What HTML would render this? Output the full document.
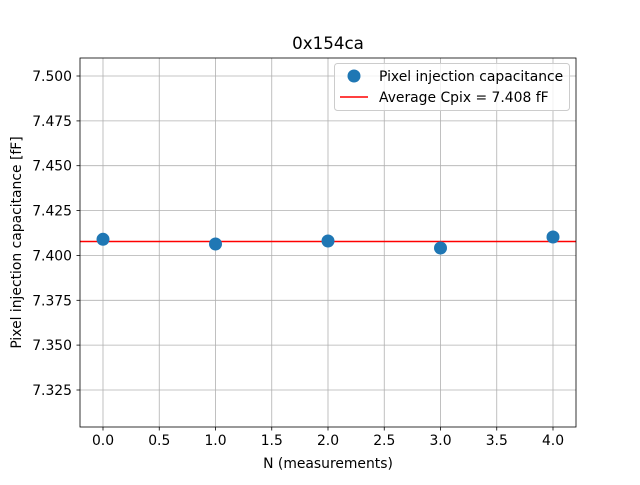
<!DOCTYPE html>
<html><head><meta charset="utf-8"><style>body{margin:0;background:#fff}</style></head><body>
<svg width="640" height="480" viewBox="0 0 640 480" xmlns="http://www.w3.org/2000/svg" font-family="DejaVu Sans, Liberation Sans, sans-serif">
<rect width="640" height="480" fill="#fff"/>
<g stroke="#b0b0b0" stroke-width="0.8">
<line x1="103" y1="58" x2="103" y2="427"/><line x1="159.25" y1="58" x2="159.25" y2="427"/>
<line x1="215.5" y1="58" x2="215.5" y2="427"/><line x1="271.75" y1="58" x2="271.75" y2="427"/>
<line x1="328" y1="58" x2="328" y2="427"/><line x1="384.25" y1="58" x2="384.25" y2="427"/>
<line x1="440.5" y1="58" x2="440.5" y2="427"/><line x1="496.75" y1="58" x2="496.75" y2="427"/>
<line x1="553" y1="58" x2="553" y2="427"/>
<line x1="80" y1="76" x2="576" y2="76"/><line x1="80" y1="120.9" x2="576" y2="120.9"/>
<line x1="80" y1="165.7" x2="576" y2="165.7"/><line x1="80" y1="210.6" x2="576" y2="210.6"/>
<line x1="80" y1="255.4" x2="576" y2="255.4"/><line x1="80" y1="300.3" x2="576" y2="300.3"/>
<line x1="80" y1="345.1" x2="576" y2="345.1"/><line x1="80" y1="390" x2="576" y2="390"/>
</g>
<line x1="80" y1="241.5" x2="576" y2="241.5" stroke="#ff0000" stroke-width="1.5"/>
<g fill="#1f77b4">
<circle cx="103" cy="239.3" r="6.5"/><circle cx="215.5" cy="244" r="6.5"/>
<circle cx="328" cy="241" r="6.5"/><circle cx="440.5" cy="248" r="6.5"/>
<circle cx="553" cy="237" r="6.5"/>
</g>
<rect x="80" y="58" width="496" height="369" fill="none" stroke="#000" stroke-width="0.8"/>
<g stroke="#000" stroke-width="0.8">
<line x1="103" y1="427" x2="103" y2="430.5"/><line x1="159.25" y1="427" x2="159.25" y2="430.5"/>
<line x1="215.5" y1="427" x2="215.5" y2="430.5"/><line x1="271.75" y1="427" x2="271.75" y2="430.5"/>
<line x1="328" y1="427" x2="328" y2="430.5"/><line x1="384.25" y1="427" x2="384.25" y2="430.5"/>
<line x1="440.5" y1="427" x2="440.5" y2="430.5"/><line x1="496.75" y1="427" x2="496.75" y2="430.5"/>
<line x1="553" y1="427" x2="553" y2="430.5"/>
<line x1="76.5" y1="76" x2="80" y2="76"/><line x1="76.5" y1="120.9" x2="80" y2="120.9"/>
<line x1="76.5" y1="165.7" x2="80" y2="165.7"/><line x1="76.5" y1="210.6" x2="80" y2="210.6"/>
<line x1="76.5" y1="255.4" x2="80" y2="255.4"/><line x1="76.5" y1="300.3" x2="80" y2="300.3"/>
<line x1="76.5" y1="345.1" x2="80" y2="345.1"/><line x1="76.5" y1="390" x2="80" y2="390"/>
</g>
<g font-size="13.9" fill="#000" text-anchor="middle">
<text x="103" y="445">0.0</text><text x="159.25" y="445">0.5</text><text x="215.5" y="445">1.0</text>
<text x="271.75" y="445">1.5</text><text x="328" y="445">2.0</text><text x="384.25" y="445">2.5</text>
<text x="440.5" y="445">3.0</text><text x="496.75" y="445">3.5</text><text x="553" y="445">4.0</text>
<text x="328" y="468">N (measurements)</text>
<text x="328" y="49" font-size="16.7">0x154ca</text>
</g>
<g font-size="13.9" fill="#000" text-anchor="end">
<text x="72" y="81">7.500</text><text x="72" y="125.9">7.475</text><text x="72" y="170.7">7.450</text>
<text x="72" y="215.6">7.425</text><text x="72" y="260.4">7.400</text><text x="72" y="305.3">7.375</text>
<text x="72" y="350.1">7.350</text><text x="72" y="395">7.325</text>
</g>
<text transform="translate(21,242.5) rotate(-90)" font-size="13.9" text-anchor="middle">Pixel injection capacitance [fF]</text>
<rect x="334.5" y="63.5" width="235" height="47" rx="3" fill="#fff" fill-opacity="0.8" stroke="#ccc"/>
<circle cx="354" cy="76" r="6.5" fill="#1f77b4"/>
<text x="379" y="81" font-size="13.9">Pixel injection capacitance</text>
<line x1="340" y1="97" x2="368" y2="97" stroke="#ff0000" stroke-width="1.5"/>
<text x="379" y="102" font-size="13.9">Average Cpix = 7.408 fF</text>
</svg>
</body></html>
